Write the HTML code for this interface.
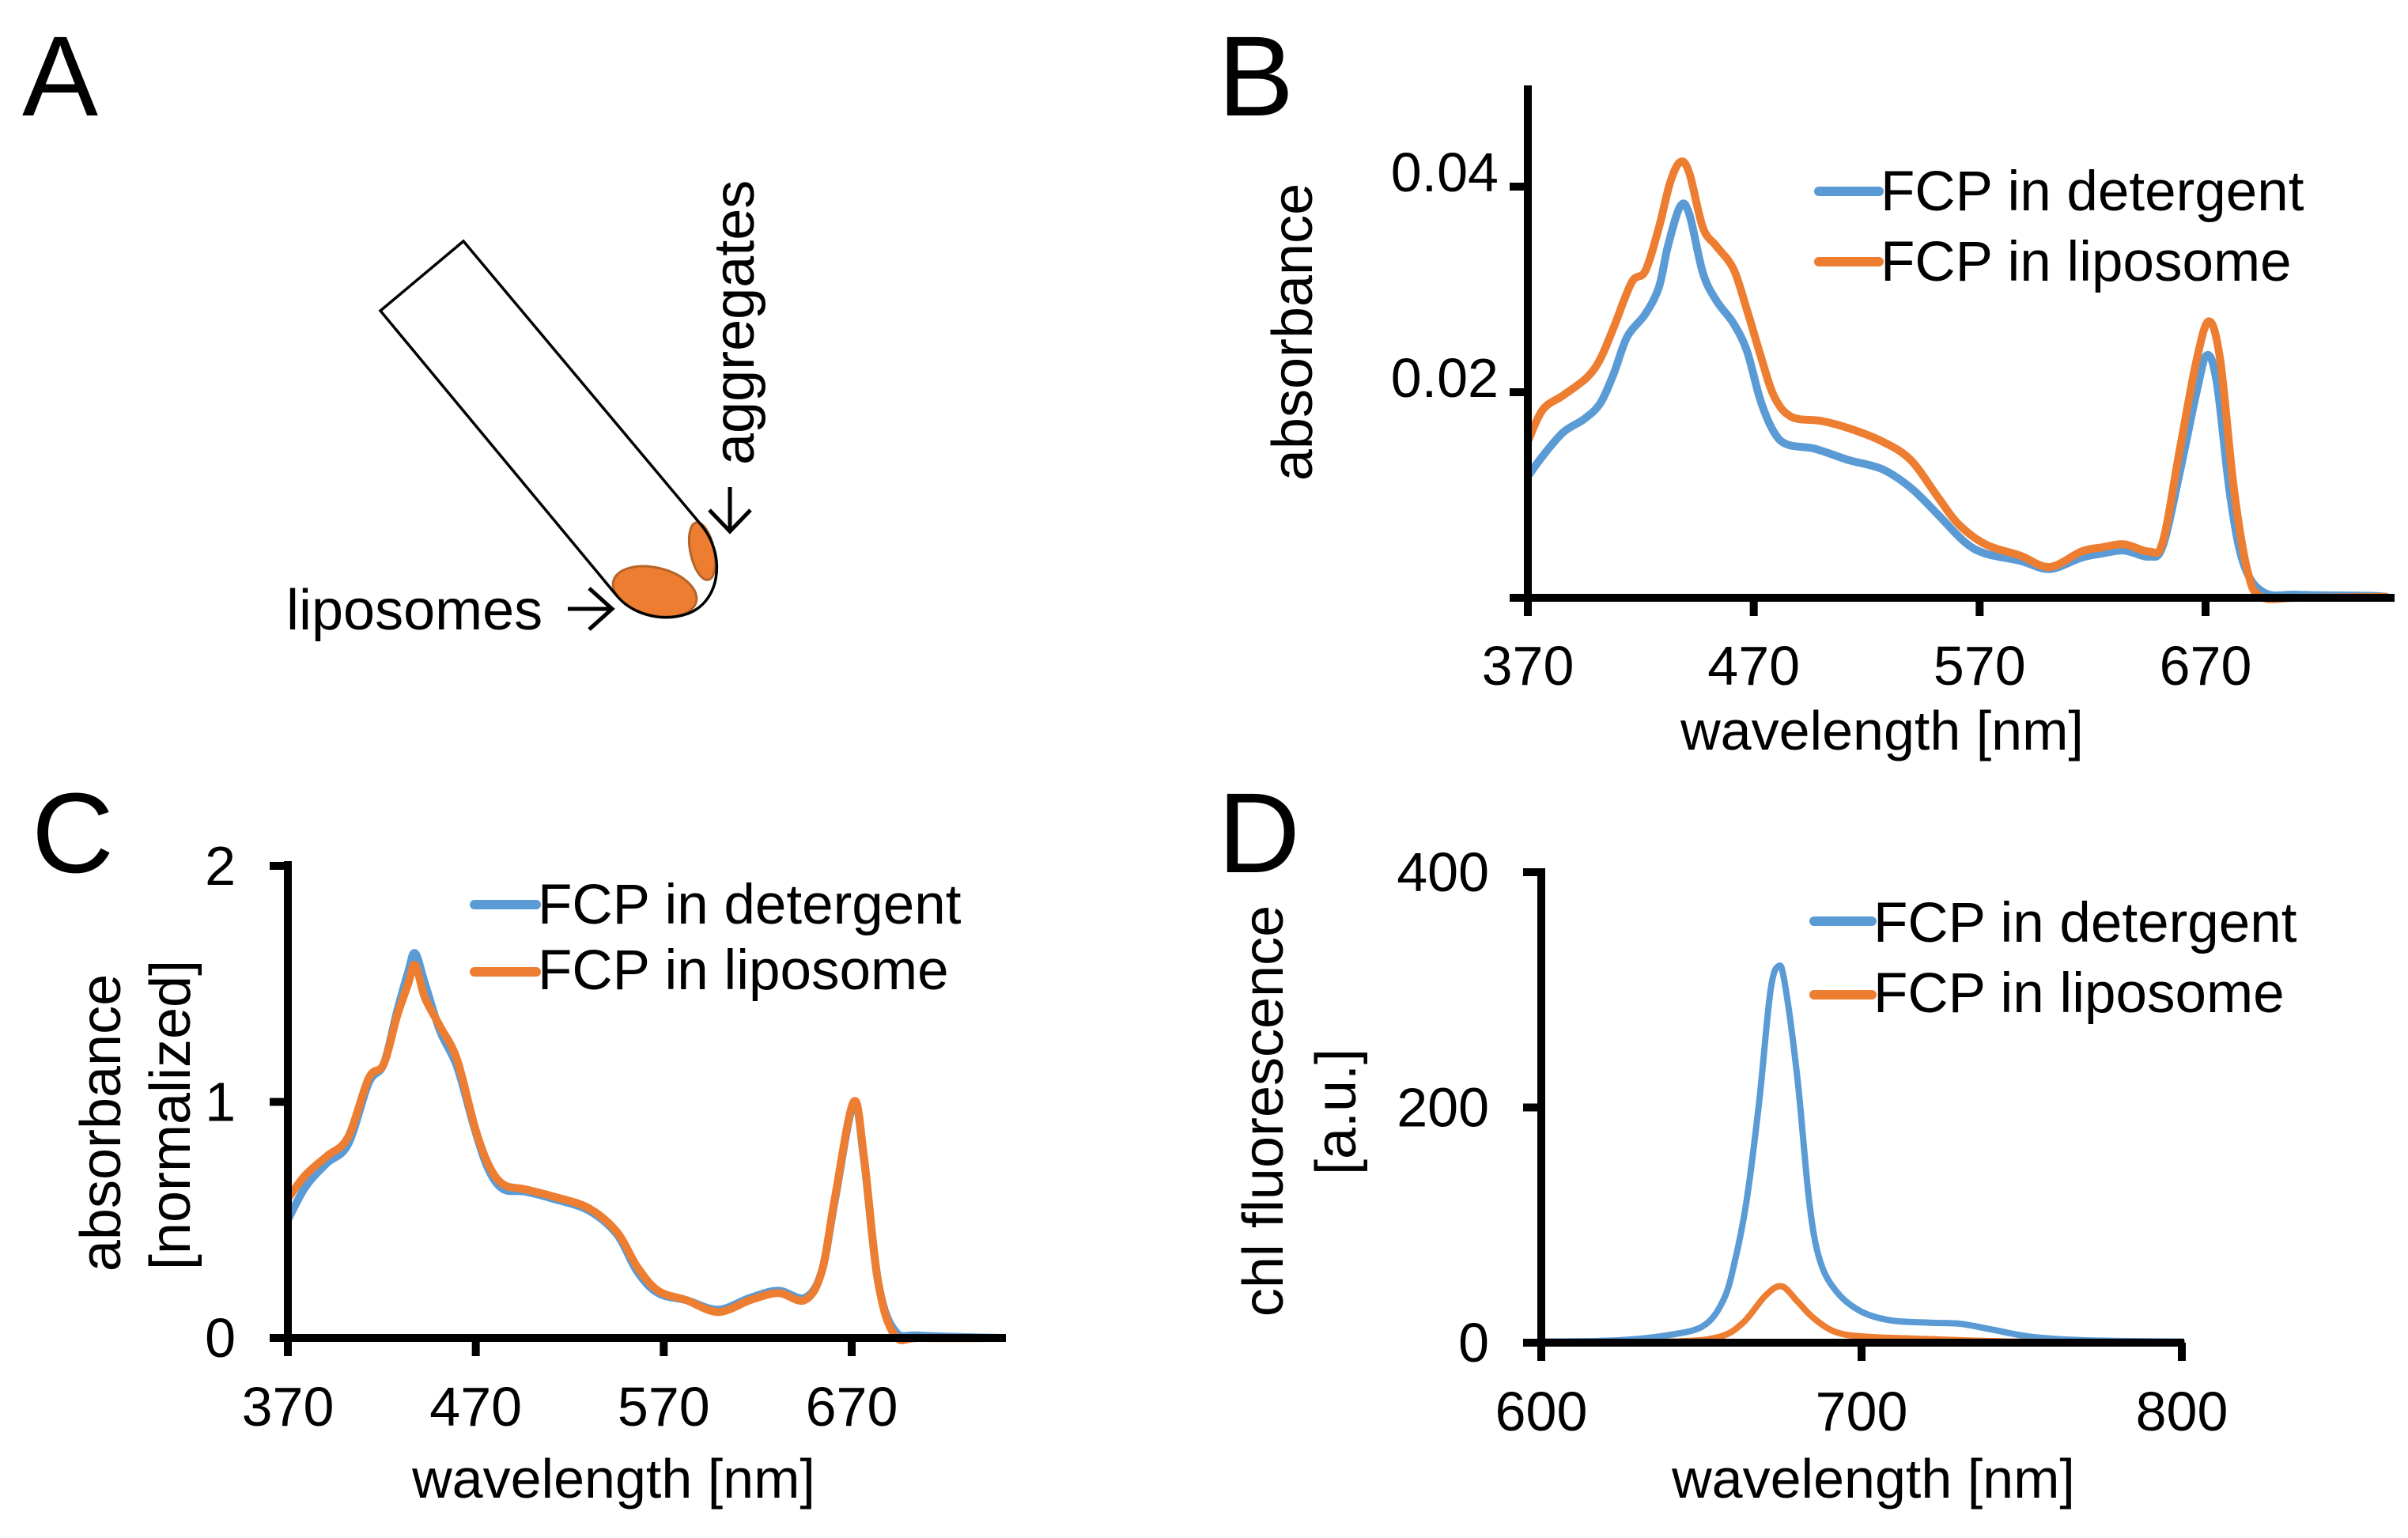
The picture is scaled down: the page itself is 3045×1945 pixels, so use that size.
<!DOCTYPE html>
<html><head><meta charset="utf-8"><title>FCP figure</title>
<style>
html,body{margin:0;padding:0;background:#fff;}
svg{display:block;}
text{font-family:"Liberation Sans",Arial,sans-serif;fill:#000;}
</style></head>
<body>
<svg id="fig" xmlns="http://www.w3.org/2000/svg" width="3045" height="1945" viewBox="0 0 3045 1945">
<rect width="3045" height="1945" fill="#fff"/>
<text x="28" y="146" font-size="144">A</text>
<text x="1540" y="146" font-size="144">B</text>
<text x="40" y="1103" font-size="144">C</text>
<text x="1540" y="1103" font-size="144">D</text>

<g>
  <ellipse cx="828" cy="748" rx="54" ry="30" transform="rotate(14 828 748)" fill="#ed7d31" stroke="#b5652a" stroke-width="3"/>
  <ellipse cx="888" cy="697" rx="15" ry="37" transform="rotate(-12 888 697)" fill="#ed7d31" stroke="#b5652a" stroke-width="3"/>
  <path d="M481,393 L586,305 L886,663 C918,700 912,760 870,776 C835,788 797,776 778,751 Z" fill="none" stroke="#000" stroke-width="3.5" stroke-linejoin="miter"/>
  <text x="362" y="796" font-size="72">liposomes</text>
  <g stroke="#000" stroke-width="5" fill="none">
    <line x1="718" y1="770" x2="774" y2="770"/>
    <polyline points="745,744 774,770 745,796"/>
  </g>
  <text transform="translate(953,588) rotate(-90)" font-size="72">aggregates</text>
  <g stroke="#000" stroke-width="5" fill="none">
    <line x1="923" y1="616" x2="923" y2="672"/>
    <polyline points="897,645 923,672 949,645"/>
  </g>
</g>
<g id="charts"></g>
</svg>
<script>
// ---------- Panel B data (absorbance) ----------
const bDetX = [370,376.6,385.7,395,402,408,414,422,428,432,437.5,441.5,447.5,453.5,461,467,473,479,485,497,512,527,539.5,551.5,563.5,572.6,588,601,615,624,634,645,651,658.5,666,670.6,675,681,687,696,711,741.5,750];
const bDetY = [0.0118,0.0138,0.0161,0.0174,0.0189,0.0218,0.0254,0.0276,0.0302,0.0342,0.0381,0.0373,0.0316,0.0289,0.0267,0.0240,0.0192,0.0161,0.0149,0.0145,0.0134,0.0125,0.0107,0.0081,0.0054,0.0043,0.0036,0.0028,0.0039,0.0043,0.0046,0.0040,0.0050,0.0121,0.0200,0.0236,0.0209,0.0098,0.0032,0.0005,0.0003,0.0002,0.0001];
const bLipX = [370,376.6,385.7,396,402,408,416,422,428,433,437.5,441.5,447.5,453.5,461,467,473,479,486.7,500,512,527,539.5,551.5,560.5,572.6,588,601,615,624,634,645,651,658.5,666,671.5,676.5,682.5,688.5,694.5,711,750];
const bLipY = [0.0152,0.0183,0.0197,0.0214,0.0232,0.0263,0.0307,0.0318,0.0360,0.0404,0.0424,0.0413,0.0360,0.0342,0.0320,0.0280,0.0236,0.0196,0.0176,0.0172,0.0165,0.0152,0.0134,0.0098,0.0072,0.0052,0.0041,0.0030,0.0045,0.0049,0.0052,0.0045,0.0054,0.0143,0.0231,0.0269,0.0231,0.0107,0.0027,0.0001,0,0.0001];
const bXTicks = [370,470,570,670];
const bYTicks = [0,0.02,0.04];
const bYTickLabels = ["", "0.02", "0.04"];

// ---------- Panel C data (normalized absorbance) ----------
const cX = [370,379.4,390.7,402,413,421,428,434,437.7,443,451,460,469.6,477,484.7,496,511,530,545,556,567,582,599,616,631,645,654,661,671,676.5,684,693,706.5,750];
const cDetY = [0.50,0.64,0.74,0.82,1.08,1.16,1.38,1.55,1.63,1.50,1.30,1.15,0.88,0.71,0.63,0.62,0.59,0.54,0.44,0.28,0.19,0.16,0.12,0.17,0.20,0.17,0.28,0.58,0.99,0.76,0.24,0.03,0.01,0];
const cLipY = [0.59,0.69,0.77,0.85,1.10,1.16,1.36,1.50,1.58,1.44,1.32,1.18,0.89,0.73,0.65,0.63,0.60,0.55,0.45,0.30,0.20,0.16,0.11,0.16,0.19,0.16,0.28,0.59,1.00,0.77,0.24,0.01,0,0];
const cXTicks = [370,470,570,670];
const cYTicks = [0,1,2];

// ---------- Panel D data (fluorescence) ----------
const dDetX = [600,624,641,651,657,660.5,664,668,671.5,674,676,680,683.7,687,692,699.5,709,721.5,731,741,753,770,800];
const dDetY = [1,2,7,15,37,70,119,204,298,320,306,224,119,70,44,27,19,17,16,11,5,2,1];
const dLipX = [600,641,655.6,663,670,675,680,685,692,702,721.5,746,800];
const dLipY = [0,1,5,17,40,48,35,21,9,5,3,1,0];
const dXTicks = [600,700,800];
const dYTicks = [0,200,400];

const NS = "http://www.w3.org/2000/svg";
const root = document.getElementById('charts');
const BLUE = "#5b9bd5", ORANGE = "#ed7d31";

function mk(tag, attrs, parent){
  const e = document.createElementNS(NS, tag);
  for (const k in attrs) e.setAttribute(k, attrs[k]);
  (parent||root).appendChild(e);
  return e;
}
function linScale(d0,d1,r0,r1){ return v => r0 + (v-d0)/(d1-d0)*(r1-r0); }
function smoothPath(p){
  let d = 'M'+p[0][0].toFixed(1)+','+p[0][1].toFixed(1);
  for (let i=0;i<p.length-1;i++){
    const p0=p[Math.max(0,i-1)], p1=p[i], p2=p[i+1], p3=p[Math.min(p.length-1,i+2)];
    const c1x=p1[0]+(p2[0]-p0[0])/6, c1y=p1[1]+(p2[1]-p0[1])/6;
    const c2x=p2[0]-(p3[0]-p1[0])/6, c2y=p2[1]-(p3[1]-p1[1])/6;
    d += ` C${c1x.toFixed(1)},${c1y.toFixed(1)} ${c2x.toFixed(1)},${c2y.toFixed(1)} ${p2[0].toFixed(1)},${p2[1].toFixed(1)}`;
  }
  return d;
}

function panel(cfg){
  const g = mk('g', {});
  
  
  const sx = linScale(cfg.xd[0], cfg.xd[1], cfg.x0, cfg.x1);
  const sy = linScale(0, cfg.ymax, cfg.y0, cfg.ytop);
  cfg.series.forEach(s => {
    const pts = s.x.map((v,i) => [sx(v), sy(s.y[i])]);
    const pl = mk('path', {d: smoothPath(pts), fill:'none', stroke:s.color, 'stroke-width':cfg.lw, 'stroke-linejoin':'round', 'stroke-linecap':'round'}, g);
    
    
  });
  const ya = mk('line', {x1:cfg.x0, y1:cfg.axTop, x2:cfg.x0, y2:cfg.y0+5, stroke:'#000','stroke-width':10}, g);
  
  
  const xa = mk('line', {x1:cfg.x0-23, y1:cfg.y0, x2:cfg.xEnd, y2:cfg.y0, stroke:'#000','stroke-width':10}, g);
  
  
  cfg.xt.forEach(v => {
    const t = mk('line', {x1:sx(v), y1:cfg.y0, x2:sx(v), y2:cfg.y0+23, stroke:'#000','stroke-width':10}, g);
    
    
    const l = mk('text', {x:sx(v), y:cfg.xLabY, 'font-size':70, 'text-anchor':'middle'}, g);
    l.textContent = String(v);
    
    
  });
  cfg.yt.forEach((v,i) => {
    const t = mk('line', {x1:cfg.x0-23, y1:sy(v), x2:cfg.x0, y2:sy(v), stroke:'#000','stroke-width':10}, g);
    
    
    const lab = cfg.ytl ? cfg.ytl[i] : String(v);
    if (lab === "") return;
    const l = mk('text', {x:cfg.yLabX, y:sy(v)+cfg.yLabDy, 'font-size':70, 'text-anchor':'end'}, g);
    l.textContent = lab;
    
    
  });
  const xt = mk('text', {x:cfg.xTitle[0], y:cfg.xTitle[1], 'font-size':70, 'text-anchor':'middle'}, g);
  xt.textContent = 'wavelength [nm]';
  
  
  cfg.yTitle.forEach(t => {
    const e = mk('text', {transform:`translate(${t[1]},${t[2]}) rotate(-90)`, 'font-size':72, 'text-anchor':'middle'}, g);
    e.textContent = t[0];
    
    
  });
  cfg.series.forEach((s,i) => {
    const L = cfg.legend[i];
    const ln = mk('line', {x1:L[0], y1:L[1], x2:L[2], y2:L[1], stroke:s.color, 'stroke-width':12, 'stroke-linecap':'round'}, g);
    
    
    const tx = mk('text', {x:L[2]+2, y:L[3], 'font-size':71}, g);
    tx.textContent = s.label;
    
    
  });
}

panel({name:'panel-b-chart', xd:[370,670], x0:1932, x1:2789, ymax:0.04, y0:756, ytop:236,
  axTop:108, xEnd:3028, lw:10, xt:bXTicks, yt:bYTicks, ytl:bYTickLabels, xLabY:866, yLabX:1895, yLabDy:6,
  xTitle:[2380,948], yTitle:[['absorbance',1659,420]],
  legend:[[2300,242,2376,266],[2300,331,2376,355]],
  series:[{name:'detergent-line',label:'FCP in detergent',x:bDetX,y:bDetY,color:BLUE},
          {name:'liposome-line',label:'FCP in liposome',x:bLipX,y:bLipY,color:ORANGE}]});

panel({name:'panel-c-chart', xd:[370,670], x0:364, x1:1077, ymax:2, y0:1692, ytop:1095,
  axTop:1089, xEnd:1272, lw:10, xt:cXTicks, yt:cYTicks, xLabY:1803, yLabX:298, yLabDy:24,
  xTitle:[776,1894], yTitle:[['absorbance',152,1420],['[normalized]',240,1410]],
  legend:[[600,1144,678,1168],[600,1229,678,1251]],
  series:[{name:'detergent-line',label:'FCP in detergent',x:cX,y:cDetY,color:BLUE},
          {name:'liposome-line',label:'FCP in liposome',x:cX,y:cLipY,color:ORANGE}]});

panel({name:'panel-d-chart', xd:[600,800], x0:1949, x1:2759, ymax:400, y0:1698, ytop:1103,
  axTop:1098, xEnd:2762, lw:8, xt:dXTicks, yt:dYTicks, xLabY:1809, yLabX:1883, yLabDy:24,
  xTitle:[2369,1894], yTitle:[['chl fluorescence',1622,1405],['[a.u.]',1714,1406]],
  legend:[[2294,1165,2367,1191],[2294,1258,2367,1280]],
  series:[{name:'detergent-line',label:'FCP in detergent',x:dDetX,y:dDetY,color:BLUE},
          {name:'liposome-line',label:'FCP in liposome',x:dLipX,y:dLipY,color:ORANGE}]});
</script>
</body></html>
